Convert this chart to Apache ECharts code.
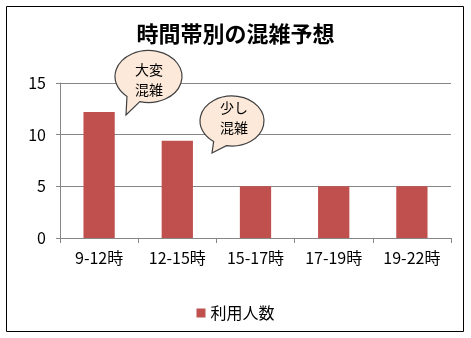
<!DOCTYPE html>
<html><head><meta charset="utf-8">
<script src="https://cdn.jsdelivr.net/npm/echarts@6/dist/echarts.min.js"></script>
<style>html,body{margin:0;padding:0;background:#fff}#c{width:471px;height:338px}</style>
</head><body><div id="c"></div>
<script>
var categories = ['9-12時', '12-15時', '15-17時', '17-19時', '19-22時'];
var values = [12.2, 9.4, 5, 5, 5];
var yTicks = [0, 5, 10, 15];
var seriesName = '利用人数';
var titleText = '時間帯別の混雑予想';
var callouts = ['大変\n混雑', '少し\n混雑'];

var FONT = '"Noto Sans CJK JP", "Noto Sans", sans-serif';
var chart = echarts.init(document.getElementById('c'), null, {renderer: 'canvas'});

function bubblePath(cx, cy, rx, ry, a1, a2, tx, ty) {
  var r = Math.PI / 180;
  var x1 = cx + rx * Math.cos(a1 * r), y1 = cy + ry * Math.sin(a1 * r);
  var x2 = cx + rx * Math.cos(a2 * r), y2 = cy + ry * Math.sin(a2 * r);
  return 'M' + x1 + ' ' + y1 + ' A' + rx + ' ' + ry + ' 0 1 0 ' + x2 + ' ' + y2 + ' L' + tx + ' ' + ty + ' Z';
}

var bubbles = [
  {cx: 148.5, cy: 76.5, rx: 33.5, ry: 26, a1: 105, a2: 130, tx: 126, ty: 115, lx: 149, ly: 80},
  {cx: 232, cy: 121, rx: 32, ry: 25, a1: 100, a2: 125, tx: 212, ty: 153, lx: 234, ly: 118}
];
var bubbleStyle = {fill: '#fde9d9', stroke: '#404040', lineWidth: 1.2};

chart.setOption({
  backgroundColor: '#fff',
  animation: false,
  title: {
    text: titleText, left: 'center', top: 18,
    textStyle: {fontFamily: FONT, fontSize: 22, fontWeight: 'bold', color: '#000'}
  },
  legend: {
    data: [seriesName], left: 'center', top: 300,
    itemWidth: 9, itemHeight: 9, itemGap: 5, icon: 'rect',
    textStyle: {fontFamily: FONT, fontSize: 16, color: '#000'}
  },
  grid: {left: 60, right: 20, top: 83, bottom: 100, containLabel: false},
  xAxis: {
    type: 'category', data: categories,
    axisLine: {lineStyle: {color: '#868686'}},
    axisTick: {show: true, length: 5, lineStyle: {color: '#868686'}},
    axisLabel: {fontFamily: FONT, fontSize: 16, color: '#000', margin: 12}
  },
  yAxis: {
    type: 'value', min: yTicks[0], max: yTicks[yTicks.length - 1], interval: 5,
    axisLine: {show: true, lineStyle: {color: '#868686'}},
    axisTick: {show: true, length: 4, lineStyle: {color: '#868686'}},
    splitLine: {lineStyle: {color: '#868686'}},
    axisLabel: {fontFamily: FONT, fontSize: 16, color: '#000', margin: 14}
  },
  series: [{
    name: seriesName, type: 'bar', data: values, barWidth: '40%',
    itemStyle: {color: '#c0504d'}
  }, {
    type: 'custom', coordinateSystem: 'none', silent: true, z: 10,
    data: [0],
    renderItem: function () {
      var children = [];
      bubbles.forEach(function (b, i) {
        children.push({type: 'path', shape: {pathData: bubblePath(b.cx, b.cy, b.rx, b.ry, b.a1, b.a2, b.tx, b.ty)}, style: bubbleStyle});
        children.push({type: 'text', x: b.lx, y: b.ly, style: {text: callouts[i], font: '14px ' + FONT, lineHeight: 20, fill: '#000', align: 'center', verticalAlign: 'middle'}});
      });
      return {type: 'group', children: children};
    }
  }],
  graphic: [
    {type: 'rect', shape: {x: 6.5, y: 6.5, width: 457, height: 325}, style: {fill: 'none', stroke: '#000', lineWidth: 1}, silent: true}
  ]
});
</script></body></html>
